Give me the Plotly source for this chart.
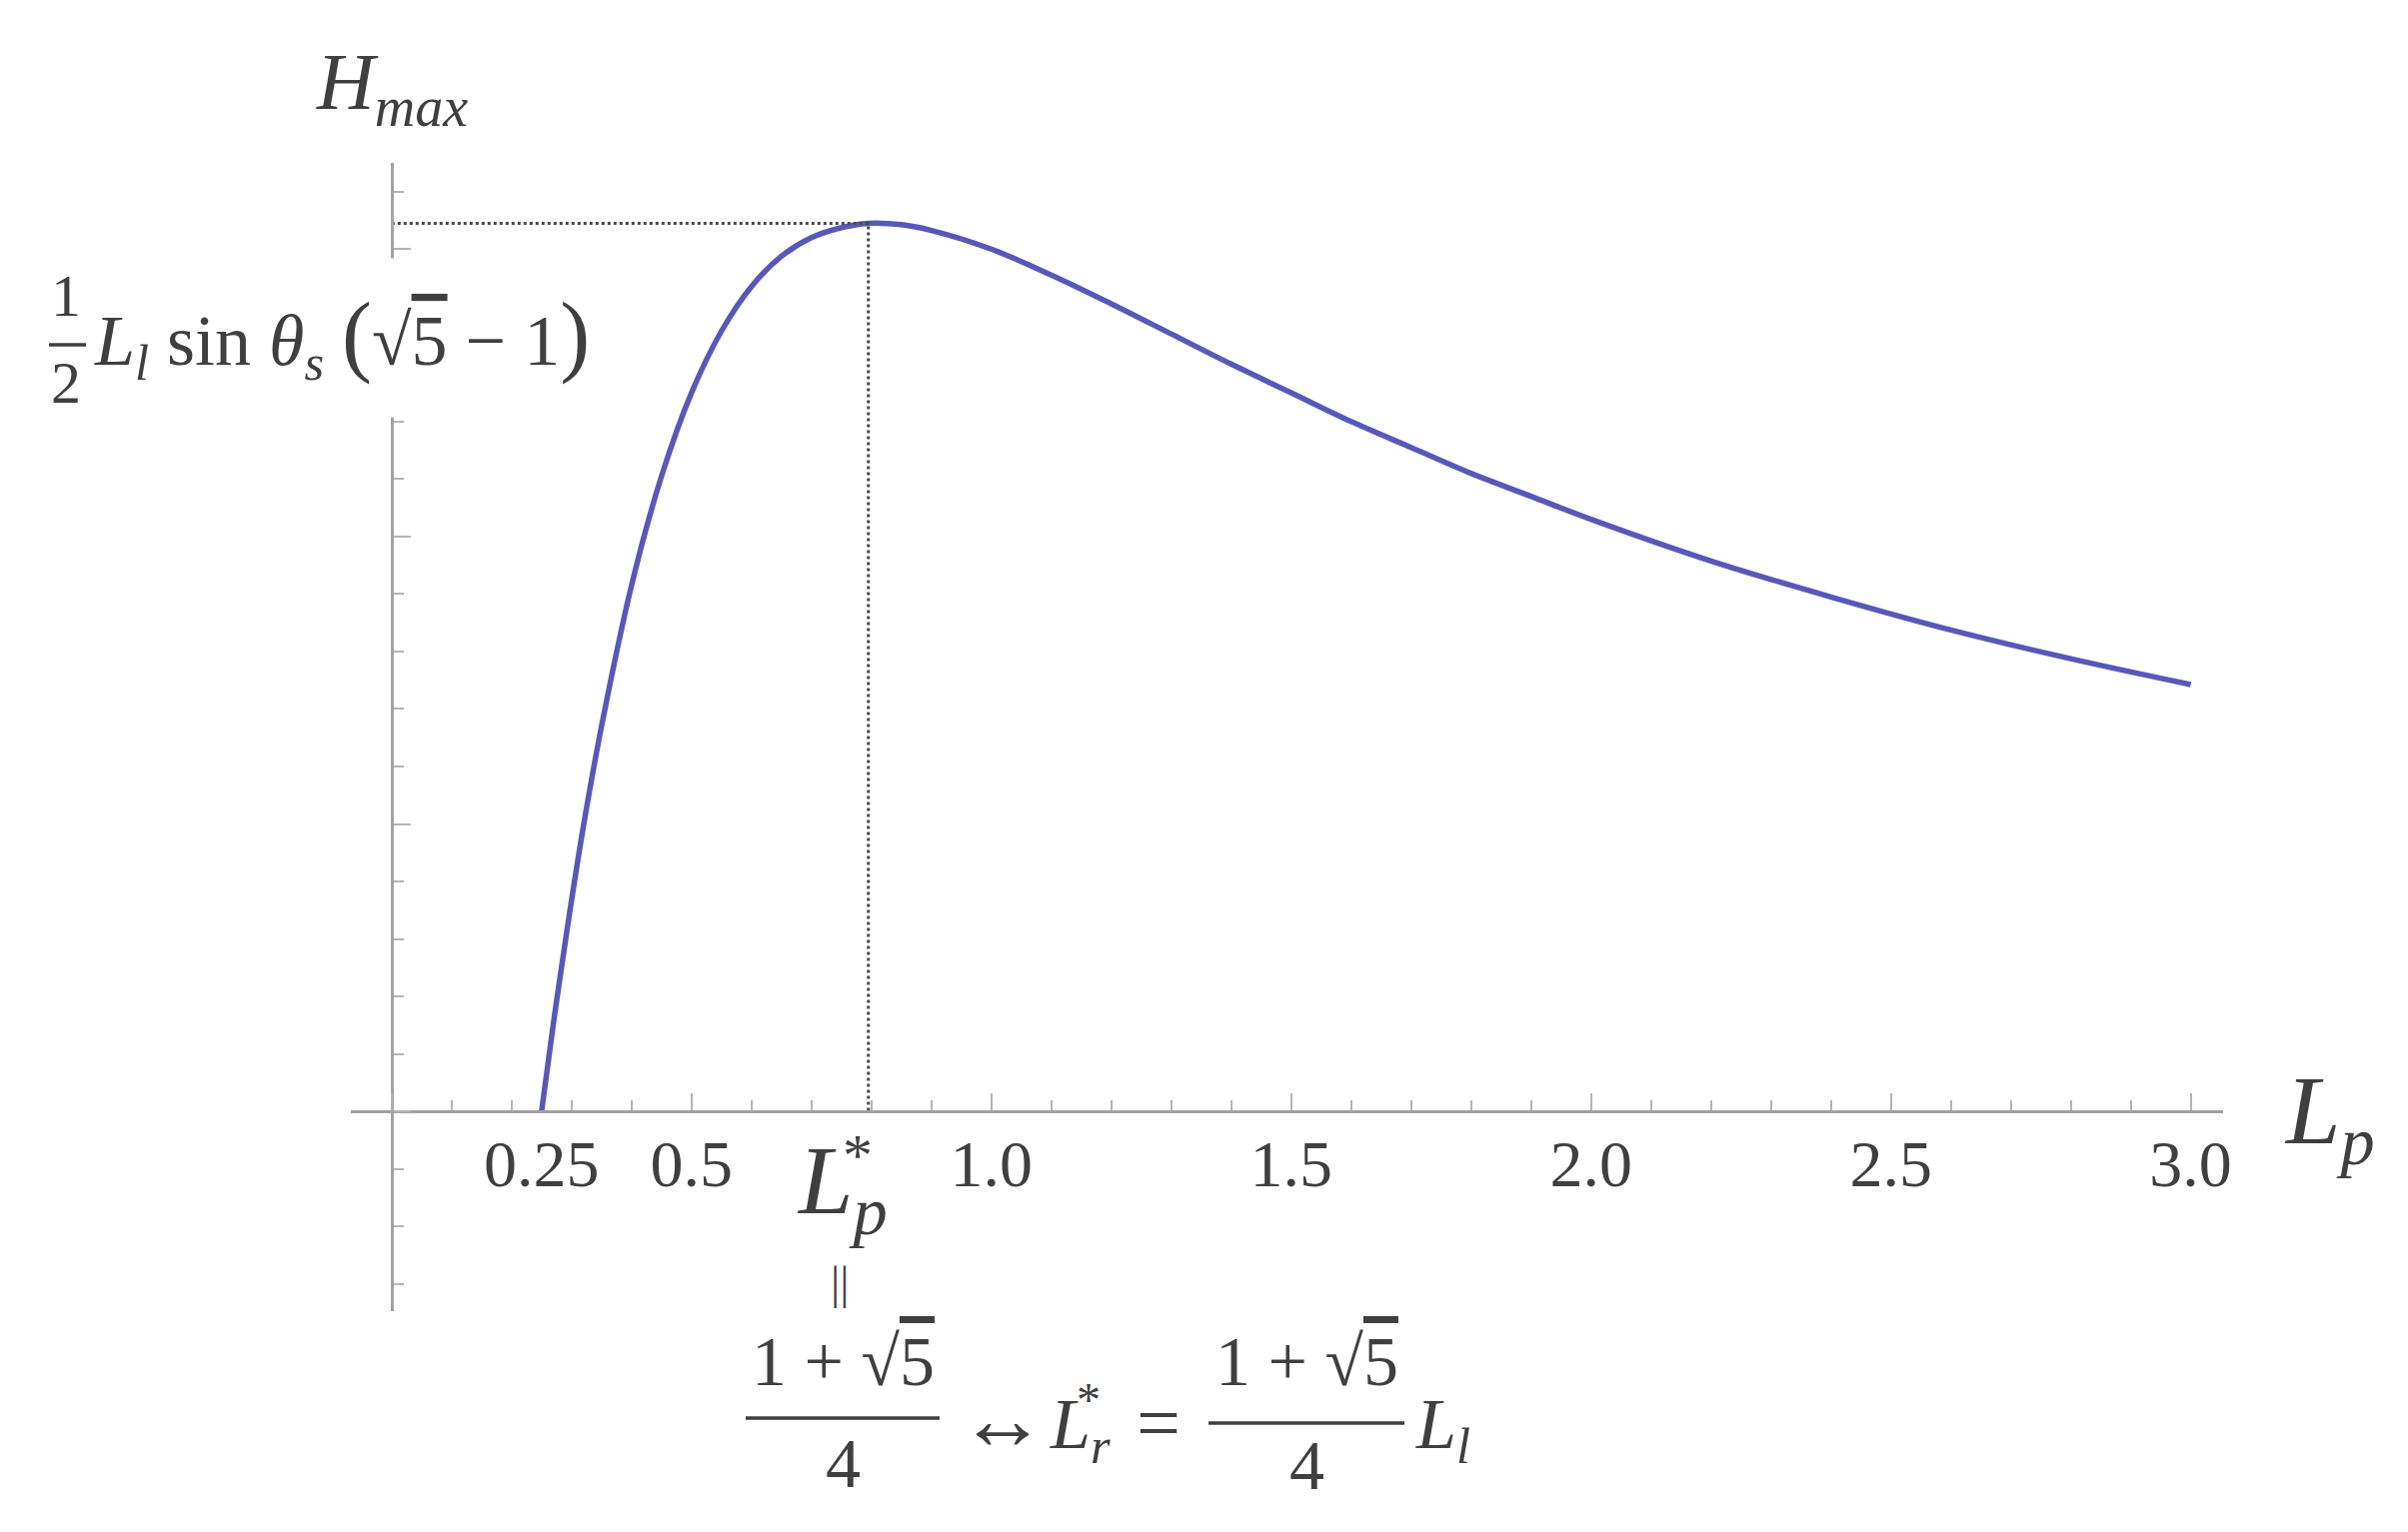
import plotly.graph_objects as go

# H_max against L_p (L_l sin θ_s taken as 1)
lp = [0.25, 0.26, 0.27, 0.28, 0.30, 0.32, 0.35, 0.40, 0.45, 0.50, 0.55, 0.60,
      0.65, 0.70, 0.75, 0.795, 0.85, 0.90, 1.0, 1.1, 1.2, 1.3, 1.4, 1.5, 1.6,
      1.7, 1.8, 1.9, 2.0, 2.2, 2.4, 2.6, 2.8, 3.0]
h_max = [0.0, 0.031, 0.062, 0.091, 0.147, 0.199, 0.268, 0.366, 0.442, 0.500,
         0.543, 0.574, 0.595, 0.608, 0.615, 0.618, 0.617, 0.613, 0.600, 0.582,
         0.562, 0.541, 0.520, 0.500, 0.480, 0.462, 0.444, 0.428, 0.412, 0.383,
         0.358, 0.335, 0.315, 0.297]

# x tick labels
tick_vals = [0.25, 0.5, 1.0, 1.5, 2.0, 2.5, 3.0]
tick_text = ['0.25', '0.5', '1.0', '1.5', '2.0', '2.5', '3.0']

x_range = [-0.068, 3.054]
y_range = [-0.139, 0.66]

# ── page geometry ──
W, H = 2409, 1533
ML, MR, MT, MB = 351, 185, 163, 221

SERIF = 'Liberation Serif'
TXT = '#3f3f3f'
AXC = '#a2a2a2'
TKC = '#b4b4b4'
CURVE = '#5858b8'


def px(x):
    """Page pixel x -> paper fraction."""
    return (x - ML) / (W - ML - MR)


def py(y):
    """Page pixel y -> paper fraction."""
    return (H - MB - y) / (H - MT - MB)


def _ann(text, x, y, size, **kw):
    d = dict(text=text, x=px(x), y=py(y), xref='paper', yref='paper',
             showarrow=False, xanchor='center', yanchor='middle',
             font=dict(family=SERIF, size=size, color=TXT))
    d.update(kw)
    return d


i_pk = h_max.index(max(h_max))
x_pk, y_pk = lp[i_pk], h_max[i_pk]

fig = go.Figure()

# dotted guides to the maximum
fig.add_trace(go.Scatter(
    x=[0, x_pk, x_pk], y=[y_pk, y_pk, 0], xaxis='x2',
    mode='lines', line=dict(color='#4a4a4a', width=3, dash='dot'),
    hoverinfo='skip',
))
fig.add_trace(go.Scatter(
    x=lp, y=h_max, mode='lines', line=dict(color=CURVE, width=5.5, shape='spline'),
))

xpos = (0 - y_range[0]) / (y_range[1] - y_range[0])
ypos = (0 - x_range[0]) / (x_range[1] - x_range[0])

sqrt5 = '√<span style="text-decoration:overline">5</span>'
big = '<span style="font-size:90px">%s</span>'

annotations = [
    _ann('<i>H</i><sub><i>max</i></sub>', 392, 88, 80),
    _ann('<i>L</i><sub><i>p</i></sub>', 2330, 1118, 98),
    # L_p* under the peak
    _ann('<i>L</i><sub><i>p</i></sub>', 842, 1188, 98),
    _ann('*', 858, 1156, 60),
    _ann('||', 840, 1283, 46),
    # y value label, white box hides the axis behind it
    _ann('<i>L</i><sub><i>l</i></sub> sin <i>θ</i><sub><i>s</i></sub> '
         + big % '(' + sqrt5 + ' − 1' + big % ')',
         92, 338, 72, xanchor='left', bgcolor='white', height=156),
    _ann('1', 66, 296, 60),
    _ann('2', 66, 383, 60),
    # bottom relation
    _ann('1 + ' + sqrt5, 843, 1362, 70),
    _ann('4', 843, 1464, 70),
    _ann('↔', 1003, 1420, 88),
    _ann('<i>L</i><sub><i>r</i></sub>', 1080, 1430, 72),
    _ann('*', 1089, 1400, 48),
    _ann('=', 1159, 1424, 78),
    _ann('1 + ' + sqrt5, 1307, 1362, 70),
    _ann('4', 1307, 1466, 70),
    _ann('<i>L</i><sub><i>l</i></sub>', 1443, 1430, 72),
]

# fraction bars
bar = dict(type='line', xref='paper', yref='paper',
           line=dict(color=TXT, width=3.5), layer='above')
shapes = [
    dict(bar, x0=px(49), x1=px(86), y0=py(345), y1=py(345)),
    dict(bar, x0=px(746), x1=px(940), y0=py(1419), y1=py(1419)),
    dict(bar, x0=px(1209), x1=px(1405), y0=py(1424), y1=py(1424)),
]

fig.update_layout(
    width=W, height=H, autosize=False,
    margin=dict(l=ML, r=MR, t=MT, b=MB, pad=0),
    paper_bgcolor='white', plot_bgcolor='white',
    showlegend=False,
    xaxis=dict(
        range=x_range, anchor='free', position=xpos, automargin=False,
        showline=True, linecolor=AXC, linewidth=3,
        showgrid=False, zeroline=False, showticklabels=False,
        ticks='inside', tick0=0, dtick=0.5, ticklen=17, tickwidth=2, tickcolor=TKC,
        minor=dict(ticks='inside', tick0=0, dtick=0.1, ticklen=10,
                   tickwidth=2, tickcolor=TKC, showgrid=False),
    ),
    xaxis2=dict(
        range=x_range, overlaying='x', anchor='free', position=xpos,
        automargin=False,
        showline=False, showgrid=False, zeroline=False, ticks='',
        tickvals=tick_vals, ticktext=tick_text, ticklabelstandoff=8,
        tickfont=dict(family=SERIF, size=66, color=TXT),
    ),
    yaxis=dict(
        range=y_range, anchor='free', position=ypos, automargin=False,
        showline=True, linecolor=AXC, linewidth=3,
        showgrid=False, zeroline=False, showticklabels=False,
        ticks='inside', tick0=0, dtick=0.2, ticklen=17, tickwidth=2, tickcolor=TKC,
        minor=dict(ticks='inside', tick0=0, dtick=0.04, ticklen=10,
                   tickwidth=2, tickcolor=TKC, showgrid=False),
    ),
    annotations=annotations,
    shapes=shapes,
)

fig.write_html('out.html', config={'displayModeBar': False},
               post_script="document.body.style.margin='0';")
